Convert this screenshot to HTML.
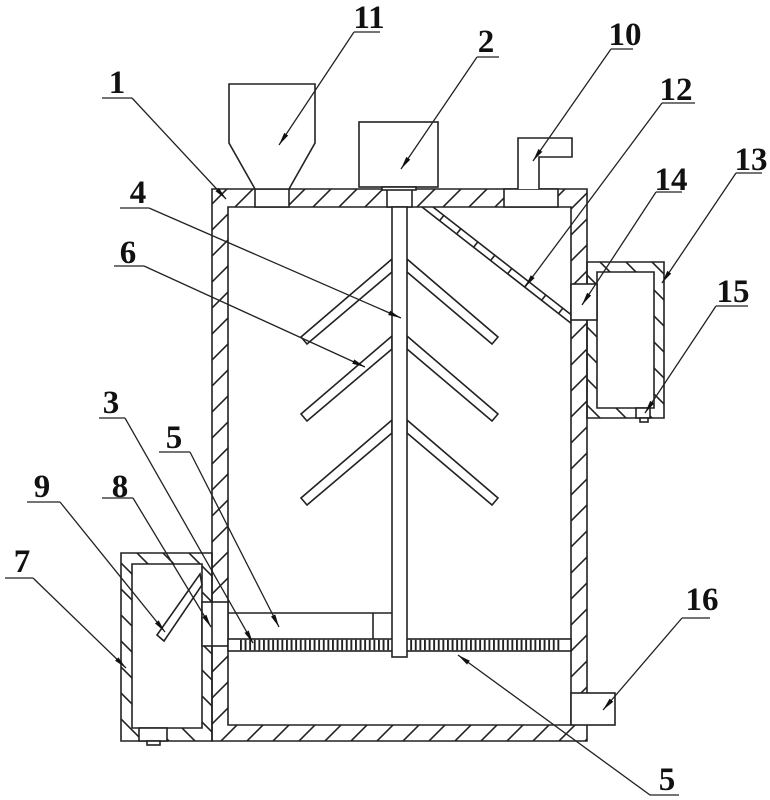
<!DOCTYPE html>
<html><head><meta charset="utf-8"><style>html,body{margin:0;padding:0;background:#fff}svg{display:block}</style></head>
<body>
<svg width="770" height="800" viewBox="0 0 770 800" xmlns="http://www.w3.org/2000/svg">
<defs>
<pattern id="hf" width="26" height="26" patternUnits="userSpaceOnUse">
<path d="M-2,28 L28,-2 M-15,15 L15,-15 M11,41 L41,11" stroke="#222" stroke-width="1.6"/>
</pattern>
<pattern id="hb" width="26" height="26" patternUnits="userSpaceOnUse">
<path d="M-2,-2 L28,28 M-15,11 L15,41 M11,-15 L41,15" stroke="#222" stroke-width="1.6"/>
</pattern>
<pattern id="teeth" x="240" y="0" width="4.6" height="20" patternUnits="userSpaceOnUse">
<rect x="0" y="0" width="1.9" height="20" fill="#222"/>
</pattern>
<marker id="ar" markerUnits="userSpaceOnUse" markerWidth="14" markerHeight="8" refX="13" refY="4" orient="auto"><path d="M0,1.6 L13,4 L0,6.4 z" fill="#111"/></marker>
</defs>

<g stroke="#222" stroke-width="1.6" fill="#fff">
<!-- main container walls -->
<path d="M212,189 H587 V741 H212 Z M228,207 V725 H571 V207 Z" fill="url(#hf)" fill-rule="evenodd"/>
<!-- box 7 -->
<path d="M121,553 H212 V741 H121 Z M132,564 V728 H202 V564 Z" fill="url(#hb)" fill-rule="evenodd"/>
<!-- box 13 -->
<path d="M587,262 H664 V418 H587 Z M597,272 V408 H654 V272 Z" fill="url(#hb)" fill-rule="evenodd"/>

<!-- openings in walls -->
<rect x="255" y="189" width="34" height="18"/>
<rect x="387" y="189" width="25" height="18"/>
<rect x="504" y="189" width="54" height="18"/>
<rect x="571" y="284" width="26" height="36"/>
<rect x="202" y="602" width="26" height="44"/>
<line x1="212" y1="602" x2="212" y2="646"/>
<rect x="571" y="693" width="44" height="32"/>
<rect x="139" y="728" width="28" height="13"/>
<rect x="147" y="741" width="13" height="4"/>
<rect x="636" y="408" width="14" height="10"/>
<rect x="640" y="418" width="8" height="4"/>

<!-- hopper 11 -->
<path d="M229,84 H315 V143 L289,189 H255 L229,143 Z"/>
<!-- motor 2 -->
<rect x="359" y="122" width="79" height="65"/>
<rect x="382" y="187" width="34" height="3"/>
<!-- vent 10 -->
<path d="M518,189 V138 H572 V157 H539 V189"/>

<!-- inclined screen 12 -->
<path d="M433,207 L571,314.6 M422,207 L571,323.2" fill="none"/>
<path d="M440,220.2 l4.2,-5.3 M457,233.5 l4.2,-5.3 M474,246.7 l4.2,-5.3 M491,260 l4.2,-5.3 M508,273.3 l4.2,-5.3 M525,286.5 l4.2,-5.3 M542,299.8 l4.2,-5.3 M559,313 l4.2,-5.3" fill="none"/>

<!-- paddles -->
<polygon points="392,259 301,337 307,344 392,272"/>
<polygon points="392,336 301,414 307,421 392,349"/>
<polygon points="392,420 301,498 307,505 392,433"/>
<polygon points="407,259 498,337 492,344 407,272"/>
<polygon points="407,336 498,414 492,421 407,349"/>
<polygon points="407,420 498,498 492,505 407,433"/>

<!-- plate above rack -->
<line x1="228" y1="613" x2="392" y2="613"/>
<line x1="373" y1="613" x2="373" y2="639"/>

<!-- rack -->
<rect x="228" y="639" width="343" height="12"/>
<rect x="240" y="639.8" width="322" height="10.4" fill="url(#teeth)" stroke="none"/>

<!-- shaft -->
<rect x="392" y="207" width="15" height="450"/>

<!-- item 9 bar in box 7 -->
<polygon points="157,635 200,574 202,585 164,641"/>
</g>

<!-- leaders -->
<g stroke="#222" stroke-width="1.3" fill="none">
<path d="M354,32 H380 M354,32 L279,145" marker-end="url(#ar)"/>
<path d="M102,98 H132 M132,98 L226,199" marker-end="url(#ar)"/>
<path d="M477,57 H499 M477,57 L401,169" marker-end="url(#ar)"/>
<path d="M611,49 H633 M611,49 L533,161" marker-end="url(#ar)"/>
<path d="M662,103 H695 M662,103 L525,287" marker-end="url(#ar)"/>
<path d="M120,208 H149 M149,208 L401,318" marker-end="url(#ar)"/>
<path d="M114,266 H144 M144,266 L365,367" marker-end="url(#ar)"/>
<path d="M656,192 H682 M656,192 L582,305" marker-end="url(#ar)"/>
<path d="M736,173 H762 M736,173 L662,283" marker-end="url(#ar)"/>
<path d="M716,306 H748 M716,306 L645,413" marker-end="url(#ar)"/>
<path d="M99,418 H125 M125,418 L253,643" marker-end="url(#ar)"/>
<path d="M159,452 H190 M190,452 L279,627" marker-end="url(#ar)"/>
<path d="M27,502 H60 M60,502 L165,632" marker-end="url(#ar)"/>
<path d="M102,498 H133 M133,498 L211,627" marker-end="url(#ar)"/>
<path d="M5,578 H33 M33,578 L126,668" marker-end="url(#ar)"/>
<path d="M682,618 H710 M682,618 L603,710" marker-end="url(#ar)"/>
<path d="M679,795 H650 L458,655" marker-end="url(#ar)"/>
</g>

<!-- labels -->
<g font-family="'Liberation Serif', serif" font-weight="bold" font-size="33" fill="#111" text-anchor="middle">
<text x="369" y="28">11</text>
<text x="117" y="93">1</text>
<text x="486" y="52">2</text>
<text x="625" y="45">10</text>
<text x="676" y="100">12</text>
<text x="138" y="203">4</text>
<text x="128" y="263">6</text>
<text x="671" y="190">14</text>
<text x="751" y="170">13</text>
<text x="733" y="302">15</text>
<text x="111" y="413">3</text>
<text x="174" y="448">5</text>
<text x="42" y="497">9</text>
<text x="120" y="497">8</text>
<text x="22" y="572">7</text>
<text x="702" y="610">16</text>
<text x="667" y="790">5</text>
</g>
</svg>
</body></html>
